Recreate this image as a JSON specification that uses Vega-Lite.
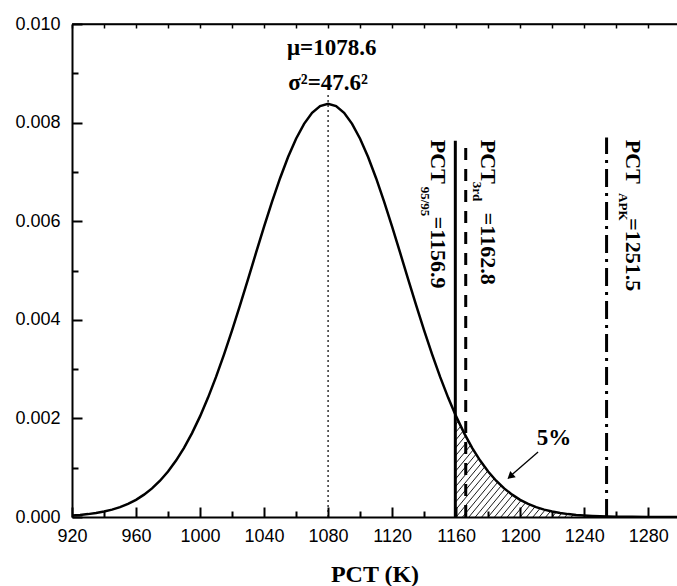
{
  "$schema": "https://vega.github.io/schema/vega-lite/v6.json",
  "width": 605,
  "height": 493,
  "autosize": {"type": "none"},
  "padding": {"left": 72, "top": 24, "right": 0, "bottom": 69},
  "background": "white",
  "config": {"view": {"stroke": null}, "axis": {"zindex": 1}},
  "datasets": {
    "curve": [
      {"x": 920, "p": 0.0000295}, {"x": 925, "p": 0.0000418}, {"x": 930, "p": 0.0000585},
      {"x": 935, "p": 0.000081}, {"x": 940, "p": 0.000111}, {"x": 945, "p": 0.00015},
      {"x": 950, "p": 0.000201}, {"x": 955, "p": 0.000267}, {"x": 960, "p": 0.000349},
      {"x": 965, "p": 0.000453}, {"x": 970, "p": 0.00058}, {"x": 975, "p": 0.000736},
      {"x": 980, "p": 0.000922}, {"x": 985, "p": 0.001144}, {"x": 990, "p": 0.001403},
      {"x": 995, "p": 0.001702}, {"x": 1000, "p": 0.002041}, {"x": 1005, "p": 0.002422},
      {"x": 1010, "p": 0.002842}, {"x": 1015, "p": 0.003299}, {"x": 1020, "p": 0.003787},
      {"x": 1025, "p": 0.004299}, {"x": 1030, "p": 0.004827}, {"x": 1035, "p": 0.005361},
      {"x": 1040, "p": 0.005888}, {"x": 1045, "p": 0.006396}, {"x": 1050, "p": 0.006872},
      {"x": 1055, "p": 0.007301}, {"x": 1060, "p": 0.007673}, {"x": 1065, "p": 0.007975},
      {"x": 1070, "p": 0.008198}, {"x": 1075, "p": 0.008335}, {"x": 1080, "p": 0.008381},
      {"x": 1085, "p": 0.008335}, {"x": 1090, "p": 0.008198}, {"x": 1095, "p": 0.007975},
      {"x": 1100, "p": 0.007673}, {"x": 1105, "p": 0.007301}, {"x": 1110, "p": 0.006872},
      {"x": 1115, "p": 0.006396}, {"x": 1120, "p": 0.005888}, {"x": 1125, "p": 0.005361},
      {"x": 1130, "p": 0.004827}, {"x": 1135, "p": 0.004299}, {"x": 1140, "p": 0.003787},
      {"x": 1145, "p": 0.003299}, {"x": 1150, "p": 0.002842}, {"x": 1155, "p": 0.002422},
      {"x": 1160, "p": 0.002041}, {"x": 1165, "p": 0.001702},
      {"x": 1170, "p": 0.001403}, {"x": 1175, "p": 0.001144}, {"x": 1180, "p": 0.000922},
      {"x": 1185, "p": 0.000736}, {"x": 1190, "p": 0.00058}, {"x": 1195, "p": 0.000453},
      {"x": 1200, "p": 0.000349}, {"x": 1205, "p": 0.000267}, {"x": 1210, "p": 0.000201},
      {"x": 1215, "p": 0.00015}, {"x": 1220, "p": 0.000111}, {"x": 1225, "p": 0.000081},
      {"x": 1230, "p": 0.0000585}, {"x": 1235, "p": 0.0000418}, {"x": 1240, "p": 0.0000295},
      {"x": 1245, "p": 0.0000206}, {"x": 1250, "p": 0.0000142}, {"x": 1255, "p": 0.0000097},
      {"x": 1260, "p": 0.0000066}, {"x": 1270, "p": 0.0000029}, {"x": 1280, "p": 0.0000012},
      {"x": 1298, "p": 0.0000002}
    ],
    "hatch": [
      {"x": 1159.5, "y": 0.001866, "x2": 1161.42, "y2": 0.001942},
      {"x": 1159.5, "y": 0.001709, "x2": 1162.88, "y2": 0.001842},
      {"x": 1159.5, "y": 0.001552, "x2": 1164.36, "y2": 0.001743},
      {"x": 1159.5, "y": 0.001395, "x2": 1165.89, "y2": 0.001646},
      {"x": 1159.5, "y": 0.001237, "x2": 1167.46, "y2": 0.00155},
      {"x": 1159.5, "y": 0.00108, "x2": 1169.07, "y2": 0.001456},
      {"x": 1159.5, "y": 0.000923, "x2": 1170.72, "y2": 0.001364},
      {"x": 1159.5, "y": 0.000766, "x2": 1172.41, "y2": 0.001273},
      {"x": 1159.5, "y": 0.000609, "x2": 1174.16, "y2": 0.001185},
      {"x": 1159.5, "y": 0.000452, "x2": 1175.96, "y2": 0.001098},
      {"x": 1159.5, "y": 0.000295, "x2": 1177.83, "y2": 0.001015},
      {"x": 1159.5, "y": 0.000138, "x2": 1179.75, "y2": 0.000933},
      {"x": 1160, "y": 0, "x2": 1181.74, "y2": 0.000854},
      {"x": 1164, "y": 0, "x2": 1183.8, "y2": 0.000778},
      {"x": 1168, "y": 0, "x2": 1185.93, "y2": 0.000704},
      {"x": 1172, "y": 0, "x2": 1188.15, "y2": 0.000634},
      {"x": 1176, "y": 0, "x2": 1190.45, "y2": 0.000568},
      {"x": 1180, "y": 0, "x2": 1192.85, "y2": 0.000505},
      {"x": 1184, "y": 0, "x2": 1195.34, "y2": 0.000445},
      {"x": 1188, "y": 0, "x2": 1197.92, "y2": 0.00039},
      {"x": 1192, "y": 0, "x2": 1200.62, "y2": 0.000339},
      {"x": 1196, "y": 0, "x2": 1203.42, "y2": 0.000292},
      {"x": 1200, "y": 0, "x2": 1206.34, "y2": 0.000249},
      {"x": 1204, "y": 0, "x2": 1209.34, "y2": 0.00021},
      {"x": 1208, "y": 0, "x2": 1212.45, "y2": 0.000175},
      {"x": 1212, "y": 0, "x2": 1215.68, "y2": 0.000145},
      {"x": 1216, "y": 0, "x2": 1219.02, "y2": 0.000119},
      {"x": 1220, "y": 0, "x2": 1222.44, "y2": 0.0000959},
      {"x": 1224, "y": 0, "x2": 1225.96, "y2": 0.000077},
      {"x": 1228, "y": 0, "x2": 1229.55, "y2": 0.000061},
      {"x": 1232, "y": 0, "x2": 1233.21, "y2": 0.0000475}
    ],
    "vlines": [
      {"line": "mean", "x": 1080, "bottom": 0, "top": 0.0086},
      {"line": "pct9595", "x": 1159.5, "bottom": 0, "top": 0.00763},
      {"line": "pct3rd", "x": 1166, "bottom": 0, "top": 0.00763},
      {"line": "pctapk", "x": 1254, "bottom": 0, "top": 0.0077}
    ],
    "arrow": [
      {"x": 1211.2, "y": 0.00132, "x2": 1195, "y2": 0.00086, "hx": 1193.8, "hy": 0.00082}
    ],
    "frame": [
      {"x": 920, "x2": 1298, "y": 0.01}
    ],
    "notes": [
      {"role": "top", "text": "μ=1078.6", "x": 1082.3, "y": 0.00937},
      {"role": "top", "text": "σ²=47.6²", "x": 1080, "y": 0.00866},
      {"role": "top", "text": "5%", "x": 1221.2, "y": 0.00146},
      {"role": "main", "text": "PCT", "x": 1148.7, "y": 0.00765},
      {"role": "sub", "text": "95/95", "x": 1140.6, "y": 0.0067},
      {"role": "main", "text": "=1156.9", "x": 1148.7, "y": 0.00609},
      {"role": "main", "text": "PCT", "x": 1179.9, "y": 0.00765},
      {"role": "sub", "text": "3rd", "x": 1173, "y": 0.0068},
      {"role": "main", "text": "=1162.8", "x": 1179.9, "y": 0.00617},
      {"role": "main", "text": "PCT", "x": 1270.7, "y": 0.00765},
      {"role": "sub", "text": "APK", "x": 1264.5, "y": 0.00657},
      {"role": "main", "text": "=1251.5", "x": 1270.7, "y": 0.00606}
    ]
  },
  "resolve": {"axis": {"x": "independent"}},
  "layer": [
    {
      "data": {"name": "curve"},
      "mark": {"type": "line", "color": "black", "strokeWidth": 2.5, "clip": true},
      "encoding": {
        "x": {
          "field": "x",
          "type": "quantitative",
          "scale": {"domain": [920, 1298], "nice": false, "zero": false},
          "axis": {
            "orient": "bottom",
            "values": [920, 940, 960, 980, 1000, 1020, 1040, 1060, 1080, 1100, 1120, 1140, 1160, 1180, 1200, 1220, 1240, 1260, 1280],
            "format": "d",
            "labelExpr": "datum.value % 40 === 0 ? datum.label : ''",
            "labelFlush": false,
            "labelOverlap": false,
            "labelFont": "Liberation Sans",
            "labelFontSize": 18,
            "labelColor": "black",
            "labelPadding": 20,
            "tickSize": {"condition": {"test": "datum.value % 40 === 0", "value": -10}, "value": -6},
            "tickWidth": 2,
            "tickColor": "black",
            "domainColor": "black",
            "domainWidth": 2,
            "grid": false,
            "title": "PCT (K)",
            "titleFont": "Liberation Serif",
            "titleFontWeight": "bold",
            "titleFontSize": 24,
            "titleColor": "black",
            "titlePadding": 13
          }
        },
        "y": {
          "field": "p",
          "type": "quantitative",
          "scale": {"domain": [0, 0.01], "nice": false, "zero": false},
          "axis": {
            "values": [0, 0.001, 0.002, 0.003, 0.004, 0.005, 0.006, 0.007, 0.008, 0.009, 0.01],
            "format": ".3f",
            "labelExpr": "round(datum.value * 1000) % 2 === 0 ? datum.label : ''",
            "labelOverlap": false,
            "labelFont": "Liberation Sans",
            "labelFontSize": 18,
            "labelColor": "black",
            "labelPadding": 22,
            "tickSize": {"condition": {"test": "round(datum.value * 1000) % 2 === 0", "value": -10}, "value": -6},
            "tickWidth": 2,
            "tickColor": "black",
            "domainColor": "black",
            "domainWidth": 2,
            "grid": false,
            "title": null
          }
        }
      }
    },
    {
      "data": {"name": "hatch"},
      "mark": {"type": "rule", "color": "black", "strokeWidth": 0.9},
      "encoding": {
        "x": {"field": "x", "type": "quantitative", "axis": null},
        "x2": {"field": "x2"},
        "y": {"field": "y", "type": "quantitative"},
        "y2": {"field": "y2"}
      }
    },
    {
      "data": {"name": "frame"},
      "mark": {"type": "rule", "color": "black", "strokeWidth": 1.5},
      "encoding": {
        "x": {
          "field": "x",
          "type": "quantitative",
          "axis": {
            "orient": "top",
            "values": [920, 940, 960, 980, 1000, 1020, 1040, 1060, 1080, 1100, 1120, 1140, 1160, 1180, 1200, 1220, 1240, 1260, 1280],
            "labels": false,
            "tickSize": -4,
            "tickWidth": 1.5,
            "tickColor": "black",
            "domainColor": "black",
            "domainWidth": 1.5,
            "grid": false,
            "title": null
          }
        },
        "x2": {"field": "x2"},
        "y": {"field": "y", "type": "quantitative"}
      }
    },
    {
      "data": {"name": "vlines"},
      "transform": [{"filter": "datum.line === 'mean'"}],
      "mark": {"type": "rule", "color": "black", "strokeWidth": 1.2, "strokeDash": [2, 3]},
      "encoding": {
        "x": {"field": "x", "type": "quantitative", "axis": null},
        "y": {"field": "bottom", "type": "quantitative"},
        "y2": {"field": "top"}
      }
    },
    {
      "data": {"name": "vlines"},
      "transform": [{"filter": "datum.line === 'pct9595'"}],
      "mark": {"type": "rule", "color": "black", "strokeWidth": 3},
      "encoding": {
        "x": {"field": "x", "type": "quantitative", "axis": null},
        "y": {"field": "bottom", "type": "quantitative"},
        "y2": {"field": "top"}
      }
    },
    {
      "data": {"name": "vlines"},
      "transform": [{"filter": "datum.line === 'pct3rd'"}],
      "mark": {"type": "rule", "color": "black", "strokeWidth": 3, "strokeDash": [12, 9]},
      "encoding": {
        "x": {"field": "x", "type": "quantitative", "axis": null},
        "y": {"field": "bottom", "type": "quantitative"},
        "y2": {"field": "top"}
      }
    },
    {
      "data": {"name": "vlines"},
      "transform": [{"filter": "datum.line === 'pctapk'"}],
      "mark": {"type": "rule", "color": "black", "strokeWidth": 3, "strokeDash": [18, 6, 3, 6]},
      "encoding": {
        "x": {"field": "x", "type": "quantitative", "axis": null},
        "y": {"field": "bottom", "type": "quantitative"},
        "y2": {"field": "top"}
      }
    },
    {
      "data": {"name": "arrow"},
      "mark": {"type": "rule", "color": "black", "strokeWidth": 1.3},
      "encoding": {
        "x": {"field": "x", "type": "quantitative", "axis": null},
        "y": {"field": "y", "type": "quantitative"},
        "x2": {"field": "x2"},
        "y2": {"field": "y2"}
      }
    },
    {
      "data": {"name": "arrow"},
      "mark": {"type": "point", "shape": "triangle-up", "filled": true, "color": "black", "opacity": 1, "size": 70, "angle": 229},
      "encoding": {
        "x": {"field": "hx", "type": "quantitative", "axis": null},
        "y": {"field": "hy", "type": "quantitative"}
      }
    },
    {
      "data": {"name": "notes"},
      "transform": [{"filter": "datum.role === 'top'"}],
      "mark": {"type": "text", "font": "Liberation Serif", "fontWeight": "bold", "fontSize": 23, "align": "center", "baseline": "alphabetic", "color": "black"},
      "encoding": {
        "x": {"field": "x", "type": "quantitative", "axis": null},
        "y": {"field": "y", "type": "quantitative"},
        "text": {"field": "text", "type": "nominal"}
      }
    },
    {
      "data": {"name": "notes"},
      "transform": [{"filter": "datum.role === 'main'"}],
      "mark": {"type": "text", "font": "Liberation Serif", "fontWeight": "bold", "fontSize": 22, "align": "left", "baseline": "middle", "angle": 90, "color": "black"},
      "encoding": {
        "x": {"field": "x", "type": "quantitative", "axis": null},
        "y": {"field": "y", "type": "quantitative"},
        "text": {"field": "text", "type": "nominal"}
      }
    },
    {
      "data": {"name": "notes"},
      "transform": [{"filter": "datum.role === 'sub'"}],
      "mark": {"type": "text", "font": "Liberation Serif", "fontWeight": "bold", "fontSize": 13, "align": "left", "baseline": "middle", "angle": 90, "color": "black"},
      "encoding": {
        "x": {"field": "x", "type": "quantitative", "axis": null},
        "y": {"field": "y", "type": "quantitative"},
        "text": {"field": "text", "type": "nominal"}
      }
    }
  ]
}
